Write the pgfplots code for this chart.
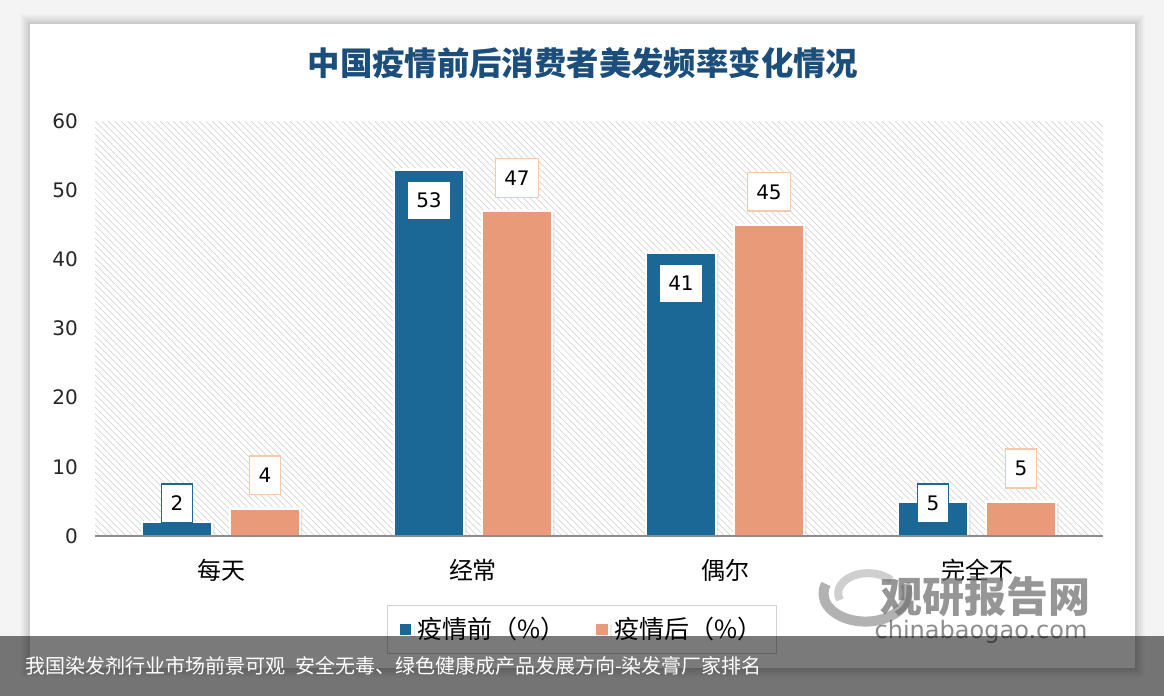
\documentclass[border=0pt]{standalone}
\usepackage{fontspec}
\setmainfont{Noto Sans CJK SC}
\newfontfamily\num{DejaVu Sans}
\usepackage{pgfplots}
\pgfplotsset{compat=1.18}
\usetikzlibrary{patterns.meta,shadows}

\definecolor{bgout}{HTML}{F4F4F4}
\definecolor{cblue}{HTML}{1B6795}
\definecolor{corange}{HTML}{E99A78}
\definecolor{corangeline}{HTML}{F5C9A9}
\definecolor{ctitle}{HTML}{1C4E7C}

\tikzset{label data/.style={font=\num\fontsize{10}{12}\selectfont, fill=white, line width=0.7pt,
    inner xsep=4.5pt, inner ysep=6pt, text height=7.4pt, text depth=0pt, anchor=center}}

\begin{document}
\begin{tikzpicture}
\useasboundingbox (0,0) rectangle (582pt,-348pt);
\fill[bgout] (0,0) rectangle (582pt,-348pt);
% card with soft shadow
\foreach \d/\o in {5/0.02,4/0.03,3/0.03,2/0.04,1/0.05}{
  \fill[black,opacity=\o] (15pt-\d*1pt,-12pt+\d*1pt) rectangle (567.5pt+\d*1pt,-334pt-\d*1pt);
}
\fill[white] (15pt,-12pt) rectangle (567.5pt,-334pt);

\node[font=\bfseries\fontsize{16.2}{18}\selectfont, color=ctitle] at (291.5pt,-31.5pt)
  {中国疫情前后消费者美发频率变化情况};

\begin{axis}[
  at={(47.5pt,-268pt)}, anchor=south west,
  scale only axis, width=504pt, height=207.5pt,
  xmin=-0.5, xmax=3.5, ymin=0, ymax=60,
  xtick={0,1,2,3}, xticklabels={每天,经常,偶尔,完全不},
  ytick={0,10,...,60},
  major tick length=0,
  axis line style={draw=none},
  axis background/.style={pattern={Lines[angle=-45,distance=2.3pt,line width=0.35pt]}, pattern color=black!16},
  /pgf/number format/assume math mode=true,
  yticklabel style={font=\num\fontsize{10}{12}\selectfont, color=black!85, xshift=-5pt},
  xticklabel style={font=\fontsize{12}{14}\selectfont, anchor=center, yshift=-17pt},
  legend style={at={(0.483,-0.225)}, anchor=center, legend columns=2,
    draw=black!18, font=\fontsize{12.5}{14}\selectfont, inner xsep=5pt, inner ysep=4pt,
    /tikz/every even column/.append style={column sep=12pt}},
  legend image code/.code={\fill[#1] (0pt,-3.5pt) rectangle (7pt,3.5pt);},
  clip=false,
]
\addplot[ybar, bar width=35pt, bar shift=-22pt, fill=cblue, draw=white, line width=1.2pt,
  drop shadow={opacity=0.18, shadow xshift=1.3pt, shadow yshift=-0.6pt},
  visualization depends on={rawy \as \yv},
  nodes near coords,
  nodes near coords style={label data, draw=cblue, xshift=-22pt,
    yshift={(\yv>20)*(-15.5)+(\yv<=20)*((4.7-\yv)*3.46)}},
] coordinates {(0,2) (1,53) (2,41) (3,5)};
\addlegendentry{疫情前（\%）}
\addplot[ybar, bar width=35pt, bar shift=22pt, fill=corange, draw=white, line width=1.2pt,
  drop shadow={opacity=0.18, shadow xshift=1.3pt, shadow yshift=-0.6pt},
  nodes near coords,
  nodes near coords style={label data, draw=corangeline, xshift=22pt, yshift=16.5pt},
] coordinates {(0,4) (1,47) (2,45) (3,5)};
\addlegendentry{疫情后（\%）}
\draw[black!45, line width=0.8pt] (rel axis cs:0,0) -- (rel axis cs:1,0);
\end{axis}

% watermark
\begin{scope}[opacity=0.75]
\draw[black!40, line width=5pt] (413pt,-292pt) arc (160:380:21pt and 14pt);
\draw[black!25, line width=4pt] (420pt,-300pt) arc (200:40:15pt and 10pt);
\node[font=\bfseries\fontsize{21}{24}\selectfont, color=black!55] at (492.5pt,-298.5pt) {观研报告网};
\node[font=\num\fontsize{12}{14}\selectfont, color=black!60] at (490.5pt,-316pt) {chinabaogao.com};
\end{scope}

% caption band
\fill[black,opacity=0.52] (0,-318pt) rectangle (582pt,-348pt);
\node[anchor=west, white, font=\fontsize{10}{12}\selectfont] at (9pt,-333pt)
  {我国染发剂行业市场前景可观\hspace{5pt}安全无毒、绿色健康成产品发展方向-染发膏厂家排名};
\end{tikzpicture}
\end{document}
